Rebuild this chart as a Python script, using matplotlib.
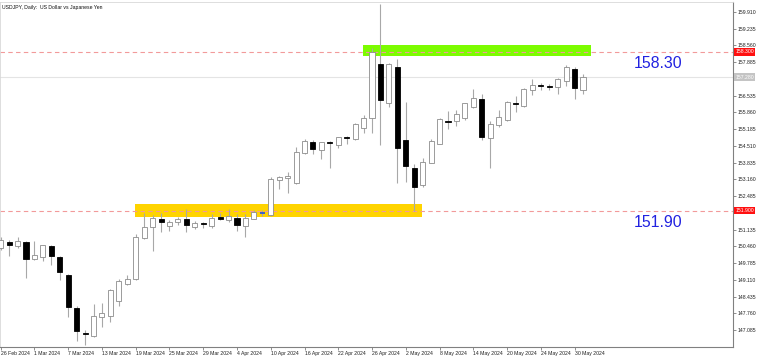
import matplotlib
matplotlib.use('Agg')
import matplotlib.pyplot as plt
import matplotlib.transforms as mtransforms
import numpy as np
import pandas as pd

plt.rcParams['font.family'] = ['Liberation Sans', 'DejaVu Sans']

# ---- data ----
dates = pd.bdate_range('2024-02-26', '2024-05-31')  # 70 daily bars

opens = [150.38, 150.64, 150.49, 150.64, 149.95, 150.02, 150.49, 150.02, 149.32, 147.96,
         146.95, 146.86, 147.61, 147.65, 148.26, 148.94, 149.15, 150.78, 151.25, 151.58,
         151.27, 151.42, 151.55, 151.23, 151.38, 151.28, 151.66, 151.52, 151.60, 151.29,
         151.56, 151.79, 151.72, 153.12, 153.20, 153.00, 154.24, 154.68, 154.35, 154.66,
         154.55, 154.86, 154.78, 155.24, 155.62, 157.81, 156.23, 157.70, 154.75, 153.61,
         152.93, 153.83, 154.59, 155.52, 155.50, 155.65, 156.09, 156.41, 154.82, 155.35,
         155.55, 156.24, 156.12, 156.76, 156.96, 156.92, 156.87, 157.13, 157.60, 156.76]
highs = [150.85, 150.70, 150.83, 150.66, 150.69, 150.53, 150.53, 150.06, 149.35, 148.06,
         147.09, 148.13, 148.19, 148.73, 149.14, 149.30, 150.95, 151.79, 151.72, 151.82,
         151.52, 151.63, 151.95, 151.48, 151.46, 151.75, 151.79, 151.95, 151.76, 151.75,
         151.93, 151.92, 153.24, 153.31, 153.47, 154.47, 154.79, 154.75, 154.68, 154.70,
         154.88, 154.92, 155.42, 155.76, 158.45, 160.23, 157.85, 158.00, 156.27, 153.78,
         154.01, 154.78, 155.65, 155.93, 155.96, 156.25, 156.79, 156.60, 155.53, 155.96,
         156.33, 156.52, 156.83, 157.20, 157.06, 156.99, 157.24, 157.75, 157.68, 157.40]
lows = [150.30, 150.07, 150.41, 149.20, 149.91, 149.87, 149.71, 149.10, 147.60, 146.66,
        146.48, 146.82, 147.22, 147.42, 148.06, 148.90, 149.10, 150.75, 150.27, 151.03,
        151.08, 151.32, 151.03, 151.15, 151.21, 151.21, 151.52, 151.44, 151.08, 150.82,
        151.56, 151.70, 151.70, 152.76, 152.60, 152.99, 154.18, 154.17, 153.97, 153.61,
        154.44, 154.59, 154.76, 155.02, 155.02, 154.55, 156.09, 153.03, 153.07, 151.89,
        152.87, 153.80, 154.59, 155.19, 155.31, 155.56, 156.05, 154.75, 153.61, 155.26,
        155.51, 155.89, 156.09, 156.56, 156.76, 156.76, 156.60, 156.94, 156.40, 156.59]
closes = [150.72, 150.51, 150.69, 149.95, 150.10, 150.51, 150.06, 149.41, 148.01, 147.06,
          146.92, 147.65, 147.76, 148.69, 149.06, 149.14, 150.85, 151.23, 151.59, 151.42,
          151.42, 151.55, 151.31, 151.38, 151.34, 151.62, 151.55, 151.68, 151.31, 151.60,
          151.86, 151.79, 153.16, 153.24, 153.30, 154.26, 154.72, 154.39, 154.66, 154.62,
          154.86, 154.84, 155.38, 155.65, 158.31, 156.36, 157.81, 154.42, 153.70, 152.87,
          153.87, 154.71, 155.60, 155.48, 155.80, 156.23, 156.43, 154.88, 155.39, 155.69,
          156.28, 156.18, 156.79, 156.98, 156.94, 156.88, 157.20, 157.70, 156.83, 157.28]

levels = [158.30, 151.90]
level_labels = ['158.30', '151.90']
# zones: (start bar, end bar, low price, high price, colour)
zones = [(15.9, 49.9, 151.66, 152.16, '#FFD400'),
         (42.9, 69.9, 158.14, 158.58, '#7CFC00')]

ytick_vals = [147.085 + 0.675 * k for k in range(20)]
xtick_idx = list(range(0, 70, 4))
xtick_labels = [f"{d.day} {d.strftime('%b %Y')}" for d in dates[xtick_idx]]

title = 'USDJPY, Daily:  US Dollar vs Japanese Yen'

# ---- figure ----
fig = plt.figure(figsize=(7.58, 3.57), dpi=100)
ax = fig.add_axes([0.0, 10 / 357, 733 / 758, 345 / 357])
ax.set_xlim(-0.08, 86.77)
ax.set_ylim(146.40, 160.31)

x = np.arange(len(opens))
o = np.array(opens); h = np.array(highs); l = np.array(lows); c = np.array(closes)

# zones
for x0, x1, lo, hi, col in zones:
    ax.fill_between([x0, x1], lo, hi, color=col, zorder=1, linewidth=0)

# level lines
for lv in levels:
    ax.axhline(lv, color='#F29A9A', lw=0.8, ls=(0, (4, 3)), zorder=2)
ax.axhline(closes[-1], color='#E4E4E4', lw=0.8, zorder=1.5)

# wicks
ax.vlines(x, l, h, color='#A8A8A8', lw=0.8, zorder=3)

# bodies
bull = c > o
bear = c < o
doji = c == o
w = 0.6
ax.bar(x[bull], (c - o)[bull], bottom=o[bull], width=w, color='white',
       edgecolor='#8C8C8C', linewidth=0.6, zorder=4)
ax.bar(x[bear], (o - c)[bear], bottom=c[bear], width=w, color='black',
       edgecolor='black', linewidth=0.6, zorder=4)
ax.hlines(c[doji], x[doji] - w / 2, x[doji] + w / 2, color='#1E50E6', lw=1.2, zorder=4)

# big level texts
for lv, txt in zip(levels, level_labels):
    ax.annotate(txt, xy=(634 / 733, lv), xycoords=('axes fraction', 'data'),
                xytext=(0, -8.4), textcoords='offset points', ha='left', va='center',
                fontsize=11.4, color='#2222E0')

# axes styling: price scale on the right; labels hidden under the price boxes
box_prices = levels + [closes[-1]]
ax.yaxis.tick_right()
ax.set_yticks(ytick_vals)
ax.set_yticklabels(['' if min(abs(v - b) for b in box_prices) < 0.2 else f'{v:.3f}'
                    for v in ytick_vals])
ax.set_xticks(xtick_idx)
ax.set_xticklabels(xtick_labels, ha='left')
ax.tick_params(axis='both', labelsize=3.7, length=2, width=0.5, color='#606060',
               labelcolor='#202020', pad=1)
for side in ['top', 'left']:
    ax.spines[side].set_color('#D8D8D8')
    ax.spines[side].set_linewidth(0.6)
for side in ['right', 'bottom']:
    ax.spines[side].set_color('#808080')
    ax.spines[side].set_linewidth(0.8)

# right-side price boxes
trans = mtransforms.blended_transform_factory(ax.transAxes, ax.transData)
for lv in levels:
    ax.text(1.003, lv, f'{lv:.3f}', transform=trans, ha='left', va='center',
            fontsize=3.7, color='white', zorder=10, clip_on=False,
            bbox=dict(boxstyle='square,pad=0.25', fc='#FF1010', ec='none'))
ax.text(1.003, closes[-1], f'{closes[-1]:.3f}', transform=trans, ha='left', va='center',
        fontsize=3.7, color='white', zorder=10, clip_on=False,
        bbox=dict(boxstyle='square,pad=0.25', fc='#C4C4C4', ec='none'))

ax.text(0.003, 0.99, title, transform=ax.transAxes, ha='left', va='top',
        fontsize=3.7, color='#101010')

fig.savefig('out.png', dpi=100)
